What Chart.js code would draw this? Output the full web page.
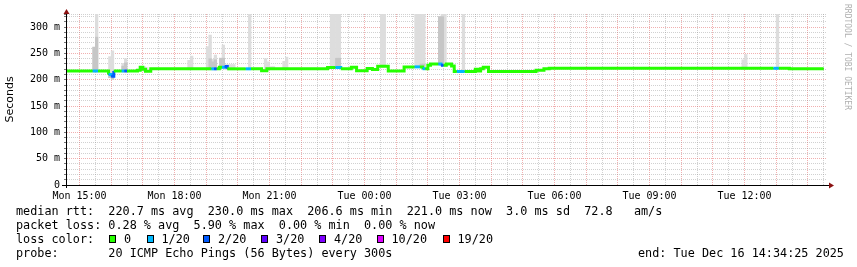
<!DOCTYPE html>
<html>
<head>
<meta charset="utf-8">
<title>SmokePing</title>
<script src="https://cdn.jsdelivr.net/npm/chart.js@4.4.1/dist/chart.umd.min.js"></script>
<style>
  body { margin: 0; background: #fff; }
  #wrap { position: relative; width: 857px; height: 267px; overflow: hidden; background: #fff; }
  #chart { position: absolute; left: 0; top: 0; }
  .txt { position: absolute; font-family: "DejaVu Sans Mono", monospace; font-size: 11.8px; line-height: 14px; white-space: pre; color: #000; }
  .box { position: absolute; top: 235px; width: 5px; height: 6px; border: 1px solid #000; }
  #credit { position: absolute; left: 843px; top: 4px; writing-mode: vertical-rl; font-family: "DejaVu Sans Mono", monospace; font-size: 8px; color: #b0b0b0; white-space: pre; }
</style>
</head>
<body>
<div id="wrap">
  <canvas id="chart" width="857" height="267"></canvas>
  <div id="credit">RRDTOOL / TOBI OETIKER</div>
  <div class="txt" style="left:16px;top:204px">median rtt:  220.7 ms avg  230.0 ms max  206.6 ms min  221.0 ms now  3.0 ms sd  72.8   am/s</div>
  <div class="txt" style="left:16px;top:218px">packet loss: 0.28 % avg  5.90 % max  0.00 % min  0.00 % now</div>
  <div class="txt" style="left:16px;top:232px">loss color:</div>
  <div id="lossLegend"></div>
  <div class="txt" style="left:16px;top:246px">probe:       20 ICMP Echo Pings (56 Bytes) every 300s</div>
  <div class="txt" style="left:638px;top:246px">end: Tue Dec 16 14:34:25 2025</div>
</div>
<script>
// loss colours (SmokePing defaults)
const lossLabels = ["0", "1/20", "2/20", "3/20", "4/20", "10/20", "19/20"];
const lossColors = ["#26ff00", "#00b8ff", "#0059ff", "#5e00ff", "#7e00ff", "#dd00ff", "#ff0000"];

const xTickLabels = ["Mon 15:00", "Mon 18:00", "Mon 21:00", "Tue 00:00", "Tue 03:00", "Tue 06:00", "Tue 09:00", "Tue 12:00"];
const yTickValues = [0, 50, 100, 150, 200, 250, 300];
const yTickLabels = ["0", "50 m", "100 m", "150 m", "200 m", "250 m", "300 m"];

// median rtt (ms), step starts, with loss index into lossColors
const medianTimes = [
  "Mon 14:30", "Mon 15:25", "Mon 15:35", "Mon 15:55", "Mon 16:00", "Mon 16:05", "Mon 16:20", "Mon 16:25",
  "Mon 16:30", "Mon 16:50", "Mon 16:55", "Mon 17:00", "Mon 17:05", "Mon 17:15", "Mon 19:10", "Mon 19:15",
  "Mon 19:20", "Mon 19:25", "Mon 19:30", "Mon 19:35", "Mon 19:40", "Mon 20:15", "Mon 20:25", "Mon 20:45",
  "Mon 20:55", "Mon 22:50", "Mon 23:05", "Mon 23:15", "Mon 23:35", "Mon 23:45", "Tue 00:05", "Tue 00:15",
  "Tue 00:25", "Tue 00:45", "Tue 01:15", "Tue 01:35", "Tue 01:45", "Tue 01:50", "Tue 01:55", "Tue 02:00",
  "Tue 02:05", "Tue 02:20", "Tue 02:25", "Tue 02:30", "Tue 02:35", "Tue 02:45", "Tue 02:50", "Tue 02:55",
  "Tue 03:10", "Tue 03:30", "Tue 03:35", "Tue 03:40", "Tue 03:45", "Tue 03:55", "Tue 05:25", "Tue 05:40",
  "Tue 05:50", "Tue 12:55", "Tue 13:05", "Tue 13:25", "Tue 14:30"
];
const medianValues = [
  216.7, 216.7, 216.7, 210.0, 206.6, 216.7, 216.7, 216.7,
  216.7, 218.0, 224.0, 220.0, 216.0, 220.8, 220.8, 220.8,
  220.8, 224.0, 224.0, 225.0, 220.8, 220.8, 220.8, 217.0,
  220.8, 223.5, 223.5, 221.0, 224.0, 217.0, 221.6, 219.5,
  225.5, 216.5, 224.5, 224.5, 224.5, 221.0, 221.0, 227.6,
  230.0, 230.0, 227.6, 227.6, 230.0, 226.0, 215.7, 215.7,
  215.7, 220.0, 216.5, 221.0, 224.0, 215.7, 218.3, 221.0,
  221.8, 221.8, 221.8, 220.9, 220.9
];
const medianLoss = [
  0, 1, 0, 1, 2, 0, 1, 2,
  0, 0, 0, 0, 0, 0, 1, 2,
  0, 0, 1, 2, 0, 1, 0, 0,
  0, 0, 1, 0, 0, 0, 0, 0,
  0, 0, 0, 1, 0, 1, 0, 0,
  0, 1, 2, 0, 0, 0, 0, 1,
  0, 0, 0, 0, 0, 0, 0, 0,
  0, 1, 0, 0, 0
];

// smoke (ms) per 5-minute step: outer range and darker core top
const smokeTimes = [
  "Mon 15:25", "Mon 15:30", "Mon 15:55", "Mon 16:00", "Mon 16:20", "Mon 16:25", "Mon 17:00", "Mon 17:05",
  "Mon 18:25", "Mon 18:30", "Mon 19:00", "Mon 19:05", "Mon 19:10", "Mon 19:15", "Mon 19:25", "Mon 19:30",
  "Mon 19:35", "Mon 19:40", "Mon 19:45", "Mon 19:50", "Mon 20:20", "Mon 20:50", "Mon 20:55", "Mon 21:00",
  "Mon 21:05", "Mon 21:25", "Mon 21:30", "Mon 22:55", "Mon 23:00", "Mon 23:05", "Mon 23:10", "Tue 00:30",
  "Tue 00:35", "Tue 01:35", "Tue 01:40", "Tue 01:45", "Tue 01:50", "Tue 02:20", "Tue 02:25", "Tue 02:30",
  "Tue 03:05", "Tue 11:55", "Tue 12:00", "Tue 13:00"
];
const smokeLow = [
  215, 215, 204, 201, 215, 215, 216, 215,
  219, 219, 219, 219, 219, 219, 222, 222,
  219, 219, 219, 219, 219, 216, 218, 219,
  219, 219, 219, 222, 222, 222, 222, 224,
  224, 223, 223, 223, 220, 228, 226, 226,
  214, 220, 220, 220
];
const smokeHigh = [
  262, 330, 244, 255, 231, 240, 225, 223,
  237, 245, 263, 285, 239, 247, 241, 266,
  229, 229, 229, 229, 330, 240, 234, 225,
  225, 235, 243, 330, 330, 330, 330, 330,
  330, 330, 330, 330, 330, 320, 330, 330,
  330, 238, 248, 330
];
const smokeCore = [
  262, 281, 213, 212, 226, 232, null, null,
  null, null, null, 240, 234, 238, 241, 241,
  null, null, null, null, null, null, null, null,
  null, null, null, null, null, 241, 241, null,
  null, null, null, 230, 230, 320, 320, null,
  null, null, null, null
];

const endTime = "Tue 14:34:25";

function toMinutes(label) {
  const [day, time] = label.split(" ");
  const [h, m, s] = time.split(":").map(Number);
  return (day === "Tue" ? 1440 : 0) + h * 60 + m + (s || 0) / 60;
}

const xMax = toMinutes(endTime);
const xMin = xMax - 1440;
const xTickValues = xTickLabels.map(toMinutes);

// half-hour grid positions inside the window
const xGrid = [];
for (let v = Math.ceil(xMin / 30) * 30; v <= xMax; v += 30) xGrid.push(v);

const medianPoints = medianTimes.map((t, i) => ({ x: toMinutes(t), y: medianValues[i] }));
const smokeOuter = smokeTimes.map((t, i) => ({ x: toMinutes(t) + 2.5, y: [smokeLow[i], smokeHigh[i]] }));
const smokeInner = smokeTimes
  .map((t, i) => smokeCore[i] == null ? null : ({ x: toMinutes(t) + 2.5, y: [smokeLow[i], smokeCore[i]] }))
  .filter(Boolean);

// loss colour legend
const legendLeft = [109, 146.5, 203, 261, 319, 376.5, 442.5];
const legendEl = document.getElementById("lossLegend");
legendEl.innerHTML = lossLabels.map((label, i) => `
  <div class="box" style="left:${legendLeft[i]}px;background:${lossColors[i]}"></div>
  <div class="txt" style="left:${legendLeft[i] + 15}px;top:232px">${label}</div>
`).join("");

const MAJOR = "rgba(225, 80, 80, 0.45)";
const MINOR = "rgba(140, 140, 140, 0.4)";

const axisArrows = {
  id: "axisArrows",
  afterDraw(chart) {
    const { ctx, chartArea: a } = chart;
    ctx.save();
    ctx.strokeStyle = "#000";
    ctx.lineWidth = 1;
    ctx.beginPath();
    ctx.moveTo(a.left - 4, a.bottom + 0.5);
    ctx.lineTo(a.right + 4, a.bottom + 0.5);
    ctx.moveTo(a.left + 0.5, a.bottom + 3);
    ctx.lineTo(a.left + 0.5, a.top - 3);
    ctx.stroke();
    ctx.fillStyle = "#8b1212";
    ctx.beginPath();
    ctx.moveTo(a.right + 8, a.bottom + 0.5);
    ctx.lineTo(a.right + 3, a.bottom - 2.5);
    ctx.lineTo(a.right + 3, a.bottom + 3.5);
    ctx.closePath();
    ctx.fill();
    ctx.beginPath();
    ctx.moveTo(a.left + 0.5, a.top - 5);
    ctx.lineTo(a.left - 2.5, a.top);
    ctx.lineTo(a.left + 3.5, a.top);
    ctx.closePath();
    ctx.fill();
    ctx.restore();
  }
};

new Chart(document.getElementById("chart"), {
  type: "line",
  data: {
    datasets: [
      {
        type: "line",
        label: "median",
        data: medianPoints,
        stepped: true,
        borderWidth: 3,
        borderColor: lossColors[0],
        borderCapStyle: "butt",
        segment: { borderColor: c => lossColors[medianLoss[c.p0DataIndex]] },
        pointRadius: 0,
        fill: false,
        order: 0
      },
      {
        type: "line",
        label: "median edge",
        data: medianPoints,
        stepped: true,
        borderWidth: 1,
        borderColor: "#202020",
        pointRadius: 0,
        fill: false,
        order: 1
      },
      {
        type: "bar",
        label: "smoke core",
        data: smokeInner,
        backgroundColor: "#c6c6c6",
        borderWidth: 0,
        grouped: false,
        barPercentage: 1,
        categoryPercentage: 1,
        order: 2
      },
      {
        type: "bar",
        label: "smoke",
        data: smokeOuter,
        backgroundColor: "#dddddd",
        borderWidth: 0,
        grouped: false,
        barPercentage: 1,
        categoryPercentage: 1,
        order: 3
      }
    ]
  },
  options: {
    responsive: false,
    maintainAspectRatio: false,
    devicePixelRatio: 1,
    animation: false,
    layout: { padding: { left: 0, right: 31, top: 14, bottom: 0 } },
    plugins: { legend: { display: false }, tooltip: { enabled: false } },
    scales: {
      x: {
        type: "linear",
        min: xMin,
        max: xMax,
        bounds: "data",
        offset: false,
        afterBuildTicks: s => { s.ticks = xGrid.map(v => ({ value: v })); },
        afterFit: s => { s.height = 82; },
        ticks: {
          autoSkip: false,
          maxRotation: 0,
          padding: 2,
          color: "#000",
          font: { family: "DejaVu Sans Mono", size: 10 },
          callback: v => {
            const i = xTickValues.indexOf(v);
            return i >= 0 ? xTickLabels[i] : "";
          }
        },
        grid: {
          offset: false,
          color: c => (c.tick && c.tick.value % 60 === 0) ? MAJOR : MINOR,
          tickLength: 3,
          tickColor: "rgba(0,0,0,0)"
        },
        border: { color: "#000", dash: [1, 1] }
      },
      y: {
        type: "linear",
        min: 0,
        max: 325,
        bounds: "data",
        afterFit: s => { s.width = 66; },
        ticks: {
          stepSize: 10,
          includeBounds: false,
          autoSkip: false,
          padding: 4,
          color: "#000",
          font: { family: "DejaVu Sans Mono", size: 10 },
          callback: v => {
            const i = yTickValues.indexOf(v);
            return i >= 0 ? yTickLabels[i] : "";
          }
        },
        grid: {
          color: c => (c.tick && c.tick.value % 50 === 0) ? MAJOR : MINOR,
          tickLength: 2,
          tickColor: "#777"
        },
        border: { color: "#444", dash: [1, 1] },
        title: {
          display: true,
          text: "Seconds",
          color: "#000",
          font: { family: "DejaVu Sans", size: 11 },
          padding: { top: 4, bottom: 0 }
        }
      }
    }
  },
  plugins: [axisArrows]
});
</script>
</body>
</html>
